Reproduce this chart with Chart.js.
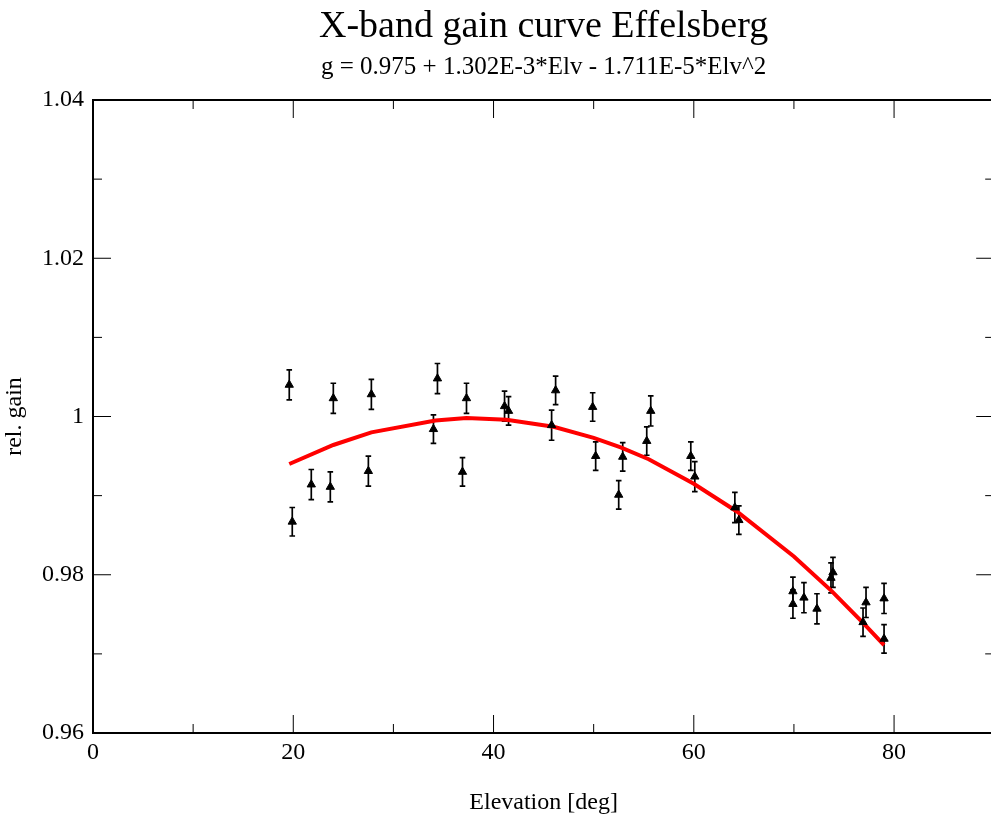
<!DOCTYPE html>
<html>
<head>
<meta charset="utf-8">
<title>X-band gain curve Effelsberg</title>
<script src="https://cdn.jsdelivr.net/npm/chart.js@4.4.1/dist/chart.umd.min.js"></script>
<style>
  html, body { margin: 0; padding: 0; background: #fff; overflow: hidden; }
</style>
</head>
<body>
<canvas id="gainChart" width="1000" height="818"></canvas>
<script>
// measured points (elevation in deg, relative gain, 1-sigma error)
const elevation = [19.6, 19.9, 21.8, 23.7, 24.0, 27.5, 27.8, 34.0, 34.4, 36.9, 37.3, 41.1, 41.5,
  45.8, 46.2, 49.9, 50.2, 52.5, 52.9, 55.3, 55.7, 59.7, 60.1, 64.1, 64.5,
  69.9, 69.9, 71.0, 72.3, 73.7, 73.9, 76.9, 77.2, 79.0, 79.0];
const gain = [1.0040, 0.9867, 0.9914, 0.9911, 1.0023, 0.9931, 1.0028, 0.9984, 1.0048, 0.9930, 1.0023, 1.0013, 1.0007,
  0.9989, 1.0033, 1.0012, 0.9950, 0.9901, 0.9949, 0.9969, 1.0007, 0.9950, 0.9924, 0.9885, 0.9869,
  0.9779, 0.9763, 0.9771, 0.9757, 0.9796, 0.9803, 0.9740, 0.9765, 0.9770, 0.9719];
const gainErr = [0.0019, 0.0018, 0.0019, 0.0019, 0.0019, 0.0019, 0.0019, 0.0018, 0.0019, 0.0018, 0.0019, 0.0019, 0.0018,
  0.0019, 0.0018, 0.0018, 0.0018, 0.0018, 0.0018, 0.0018, 0.0019, 0.0018, 0.0019, 0.0019, 0.0018,
  0.0018, 0.0018, 0.0019, 0.0019, 0.0019, 0.0019, 0.0018, 0.0019, 0.0019, 0.0018];

// red fit line
const fitElv = [19.6, 24.0, 27.8, 34.2, 37.3, 41.3, 46.0, 50.0, 52.7, 55.5, 60.0, 64.3, 70.0, 73.8, 77.0, 79.0];
const fitGain = [0.9940, 0.9964, 0.9980, 0.9995, 0.9998, 0.9996, 0.9987, 0.9973, 0.9961, 0.9946, 0.9915, 0.9880, 0.9823, 0.9779, 0.9738, 0.9711];

const xMajor = [0, 20, 40, 60, 80];
const xMinor = [10, 30, 50, 70];
const yMajor = [0.96, 0.98, 1.0, 1.02, 1.04];
const yMinor = [0.97, 0.99, 1.01, 1.03];

const titleText = 'X-band gain curve Effelsberg';
const subtitleText = 'g = 0.975 + 1.302E-3*Elv - 1.711E-5*Elv^2';

const serif = '"Liberation Serif", "DejaVu Serif", serif';

// error bars under the markers, box + inward ticks on all sides, titles over the plot box
const errorBarsAndFrame = {
  id: 'errorBarsAndFrame',
  beforeDatasetsDraw(chart) {
    const ctx = chart.ctx, x = chart.scales.x, y = chart.scales.y;
    ctx.save();
    ctx.strokeStyle = '#000';
    ctx.lineWidth = 1.7;
    elevation.forEach((e, i) => {
      const px = x.getPixelForValue(e);
      const top = y.getPixelForValue(gain[i] + gainErr[i]);
      const bot = y.getPixelForValue(gain[i] - gainErr[i]);
      ctx.beginPath();
      ctx.moveTo(px, top); ctx.lineTo(px, bot);
      ctx.moveTo(px - 2.8, top); ctx.lineTo(px + 2.8, top);
      ctx.moveTo(px - 2.8, bot); ctx.lineTo(px + 2.8, bot);
      ctx.stroke();
    });
    ctx.restore();
  },
  afterDraw(chart) {
    const ctx = chart.ctx, a = chart.chartArea;
    const x = chart.scales.x, y = chart.scales.y;
    ctx.save();
    ctx.strokeStyle = '#000';
    ctx.lineWidth = 1;
    ctx.beginPath();
    const xt = (vals, len) => vals.forEach(v => {
      const px = x.getPixelForValue(v);
      ctx.moveTo(px, a.bottom); ctx.lineTo(px, a.bottom - len);
      ctx.moveTo(px, a.top); ctx.lineTo(px, a.top + len);
    });
    const yt = (vals, len) => vals.forEach(v => {
      const py = y.getPixelForValue(v);
      ctx.moveTo(a.left, py); ctx.lineTo(a.left + len, py);
      ctx.moveTo(a.right, py); ctx.lineTo(a.right - len, py);
    });
    xt(xMajor, 18); xt(xMinor, 9);
    yt(yMajor, 18); yt(yMinor, 9);
    ctx.stroke();
    ctx.lineWidth = 2;
    ctx.strokeRect(a.left, a.top, a.right - a.left, a.bottom - a.top);

    // titles are centred on the plot box, not the canvas
    const cx = (a.left + a.right) / 2;
    ctx.fillStyle = '#000';
    ctx.textAlign = 'center';
    ctx.textBaseline = 'alphabetic';
    ctx.font = '38px ' + serif;
    ctx.fillText(titleText, cx, 37);
    ctx.font = '25px ' + serif;
    ctx.fillText(subtitleText, cx, 73.5);
    ctx.restore();
  }
};

new Chart(document.getElementById('gainChart'), {
  data: {
    datasets: [
      {
        type: 'line',
        label: 'fit',
        data: fitElv.map((e, i) => ({ x: e, y: fitGain[i] })),
        borderColor: '#ff0000',
        borderWidth: 4,
        pointRadius: 0,
        tension: 0,
        fill: false,
        order: 2
      },
      {
        type: 'scatter',
        label: 'rel. gain',
        data: elevation.map((e, i) => ({ x: e, y: gain[i] })),
        pointStyle: 'triangle',
        pointRadius: 4.8,
        borderWidth: 1,
        borderColor: '#000',
        backgroundColor: '#000',
        order: 1
      }
    ]
  },
  options: {
    responsive: false,
    animation: false,
    layout: { padding: { top: 100, left: 0, bottom: 0, right: 3 } },
    plugins: {
      legend: { display: false },
      tooltip: { enabled: false },
      title: { display: false },
      subtitle: { display: false }
    },
    scales: {
      x: {
        type: 'linear',
        min: 0,
        max: 90,
        afterBuildTicks: s => { s.ticks = s.ticks.filter(t => t.value % 20 === 0); },
        afterFit: s => { s.height = 85; },
        grid: { display: false, drawTicks: false },
        border: { display: false },
        ticks: { stepSize: 20, padding: 5, color: '#000', font: { family: serif, size: 24 } },
        title: {
          display: true,
          text: 'Elevation [deg]',
          color: '#000',
          font: { family: serif, size: 24 },
          padding: { top: 0, bottom: 1 }
        }
      },
      y: {
        type: 'linear',
        min: 0.96,
        max: 1.04,
        afterFit: s => { s.width = 93; },
        grid: { display: false, drawTicks: false },
        border: { display: false },
        ticks: {
          stepSize: 0.02,
          padding: 9,
          color: '#000',
          font: { family: serif, size: 24 },
          callback: v => String(+v.toFixed(2))
        },
        title: {
          display: true,
          text: 'rel. gain',
          color: '#000',
          font: { family: serif, size: 24 },
          padding: { top: 0, bottom: 0 }
        }
      }
    }
  },
  plugins: [errorBarsAndFrame]
});
</script>
</body>
</html>
